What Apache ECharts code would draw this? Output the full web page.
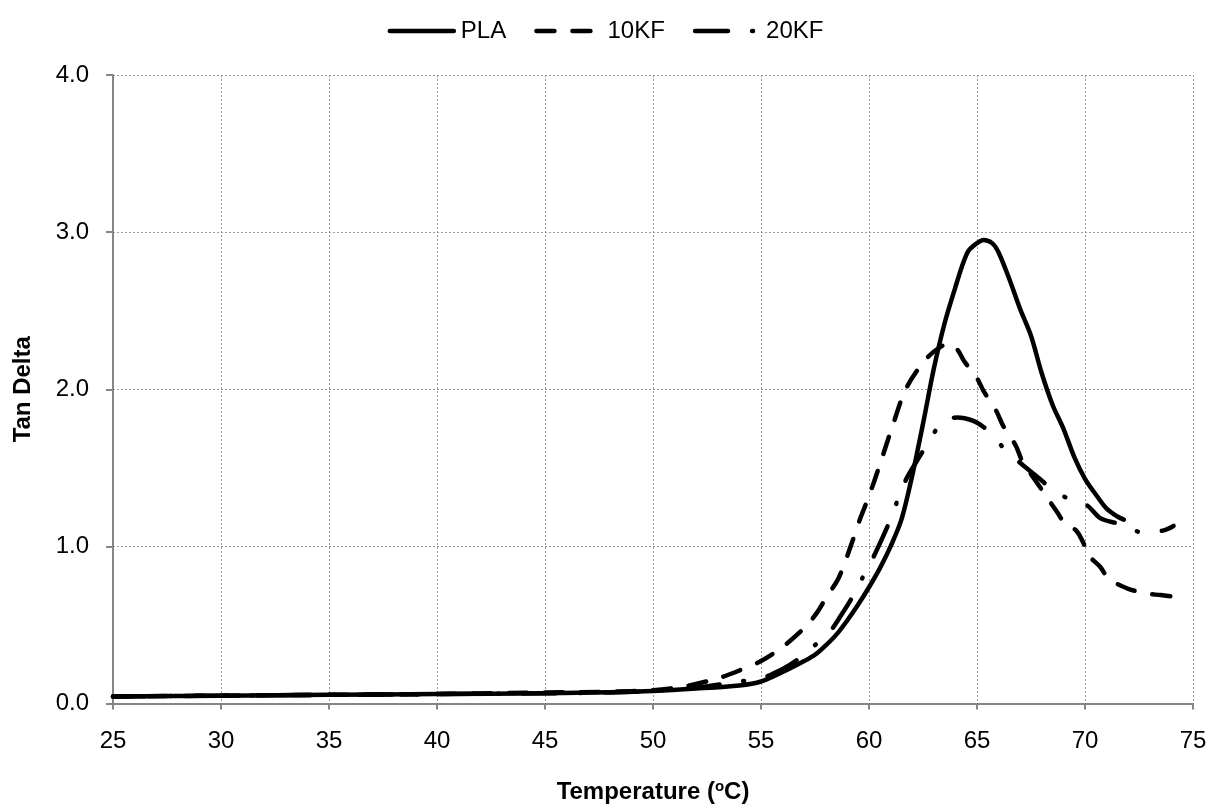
<!DOCTYPE html>
<html>
<head>
<meta charset="utf-8">
<script src="https://cdn.jsdelivr.net/npm/echarts@6/dist/echarts.min.js"></script>
<style>html,body{margin:0;padding:0;background:#fff}#c{width:1211px;height:809px}</style>
</head>
<body>
<div id="c"></div>
<script>
const seriesNames = ['PLA', '10KF', '20KF'];
const xTicks = [25, 30, 35, 40, 45, 50, 55, 60, 65, 70, 75];
const yTicks = [0, 1, 2, 3, 4];

const plaT = [25, 30, 35, 40, 45, 48, 50, 52, 54, 55, 56, 57, 57.5, 58, 58.5, 59, 59.5, 60, 60.5, 61, 61.5, 62, 62.5, 63, 63.5, 64, 64.3, 64.6, 65, 65.3, 65.7, 66, 66.5, 67, 67.5, 68, 68.5, 69, 69.5, 70, 70.5, 71, 71.5, 71.8];
const plaV = [0.045, 0.05, 0.055, 0.06, 0.065, 0.072, 0.08, 0.095, 0.115, 0.14, 0.2, 0.27, 0.31, 0.37, 0.44, 0.53, 0.63, 0.74, 0.86, 1.0, 1.17, 1.45, 1.78, 2.13, 2.42, 2.65, 2.78, 2.88, 2.93, 2.95, 2.93, 2.87, 2.7, 2.51, 2.34, 2.1, 1.9, 1.75, 1.57, 1.43, 1.33, 1.24, 1.19, 1.17];

const kf10T = [25, 30, 35, 40, 45, 48, 50, 51.5, 53, 54, 55, 56, 57, 57.6, 58, 58.6, 59.2, 59.6, 60, 60.5, 61.1, 61.7, 62.5, 63.1, 63.7, 64.1, 64.4, 65, 65.3, 65.9, 66.2, 66.8, 67.1, 67.5, 68, 68.7, 69.1, 69.6, 70, 70.1, 70.7, 71.1, 71.5, 72, 72.8, 73.5, 74.1];
const kf10V = [0.045, 0.05, 0.055, 0.06, 0.07, 0.075, 0.085, 0.11, 0.16, 0.21, 0.27, 0.36, 0.48, 0.58, 0.67, 0.8, 1.02, 1.18, 1.32, 1.52, 1.77, 2.0, 2.17, 2.25, 2.29, 2.25, 2.18, 2.07, 1.99, 1.86, 1.77, 1.64, 1.54, 1.46, 1.36, 1.22, 1.14, 1.1, 1.0, 0.95, 0.87, 0.79, 0.76, 0.73, 0.7, 0.69, 0.68];

const kf20T = [25, 30, 35, 40, 45, 48, 50, 52, 54, 55, 56, 56.6, 57.4, 58.2, 58.7, 59.2, 59.7, 60.2, 60.96, 61.34, 61.73, 62.2, 62.65, 63.2, 63.6, 64.1, 64.8, 65.3, 65.7, 66.4, 67.1, 67.9, 68.6, 69.3, 70.1, 70.7, 71.4, 71.8, 72.6, 73.6, 74.1];
const kf20V = [0.045, 0.05, 0.055, 0.06, 0.065, 0.07, 0.08, 0.1, 0.14, 0.16, 0.22, 0.27, 0.36, 0.46, 0.56, 0.67, 0.8, 0.93, 1.16, 1.3, 1.43, 1.54, 1.64, 1.76, 1.81, 1.82, 1.8, 1.76, 1.71, 1.6, 1.52, 1.43, 1.35, 1.3, 1.26, 1.18, 1.15, 1.14, 1.09, 1.1, 1.13];

function pairs(t, v) { return t.map((x, i) => [x, v[i]]); }

const FONT = '"Liberation Sans", Arial, sans-serif';
const chart = echarts.init(document.getElementById('c'), null, { renderer: 'canvas' });
const dashStyles = ['solid', [18, 18], [33, 24, 1, 24]];
const allData = [pairs(plaT, plaV), pairs(kf10T, kf10V), pairs(kf20T, kf20V)];
const LW = 4.5;

chart.setOption({
  animation: false,
  backgroundColor: '#fff',
  textStyle: { fontFamily: FONT },
  legend: {
    top: 14,
    left: 'center',
    itemWidth: 64,
    itemHeight: 14,
    itemGap: 28,
    textStyle: { fontFamily: FONT, fontSize: 24, color: '#000', padding: [0, 0, 0, 2] },
    itemStyle: { color: 'rgba(0,0,0,0)', borderColor: 'rgba(0,0,0,0)', borderWidth: 0 },
    lineStyle: { width: LW },
    data: seriesNames
  },
  grid: { left: 113, right: 18, top: 75, bottom: 103, containLabel: false },
  xAxis: {
    type: 'value',
    min: xTicks[0],
    max: xTicks[xTicks.length - 1],
    interval: 5,
    name: '{b|Temperature (}{s|o}{b|C)}',
    nameLocation: 'middle',
    nameGap: 76,
    nameTextStyle: {
      rich: {
        b: { fontFamily: FONT, fontSize: 24, fontWeight: 'bold', color: '#000' },
        s: { fontFamily: FONT, fontSize: 15, fontWeight: 'bold', color: '#000', verticalAlign: 'top', padding: [0, 0, 10, 0] }
      }
    },
    axisLine: { lineStyle: { color: '#868686', width: 2 } },
    axisTick: { show: true, inside: false, length: 6, lineStyle: { color: '#868686', width: 2 } },
    axisLabel: { fontFamily: FONT, fontSize: 24, color: '#000', margin: 26 },
    splitLine: { show: true, lineStyle: { color: '#999', type: [2, 2], width: 1 } }
  },
  yAxis: {
    type: 'value',
    min: yTicks[0],
    max: yTicks[yTicks.length - 1],
    interval: 1,
    name: 'Tan Delta',
    nameLocation: 'middle',
    nameGap: 78,
    nameTextStyle: { fontFamily: FONT, fontSize: 24, fontWeight: 'bold', color: '#000' },
    axisLine: { show: true, lineStyle: { color: '#868686', width: 2 } },
    axisTick: { show: true, inside: false, length: 7, lineStyle: { color: '#868686', width: 2 } },
    axisLabel: { fontFamily: FONT, fontSize: 24, color: '#000', margin: 24, formatter: v => v.toFixed(1) },
    splitLine: { show: true, lineStyle: { color: '#999', type: [2, 2], width: 1 } }
  },
  series: seriesNames.map((n, i) => ({
    name: n,
    type: 'line',
    data: allData[i],
    showSymbol: false,
    symbol: 'none',
    smooth: 0.3,
    z: 10 - i,
    lineStyle: { color: '#000', width: LW, type: dashStyles[i], cap: 'round', join: 'round' },
    itemStyle: { color: '#000' }
  }))
});
</script>
</body>
</html>
